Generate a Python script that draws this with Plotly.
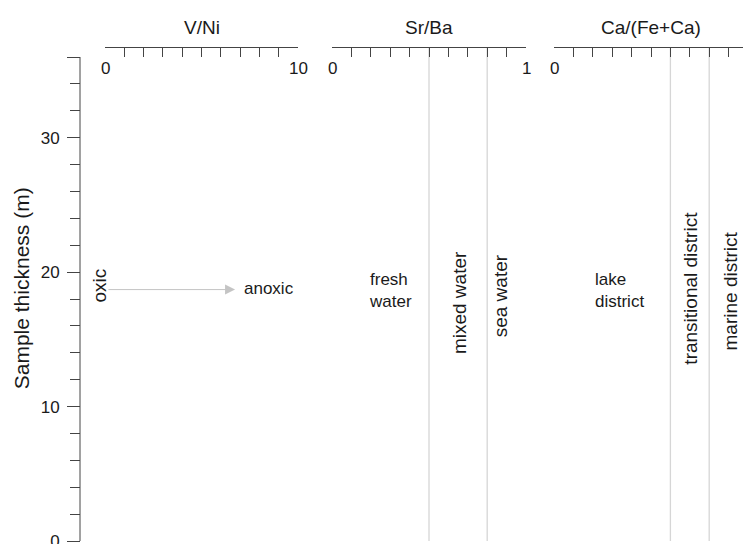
import plotly.graph_objects as go

# Depth axis (m)
depth_max = 36
depth_major = [0, 10, 20, 30]
depth_minor = [2, 4, 6, 8, 12, 14, 16, 18, 22, 24, 26, 28, 32, 34]

# Proxy scales
proxy_titles = ["V/Ni", "Sr/Ba", "Ca/(Fe+Ca)"]
vni_ticks = [0, 1, 2, 3, 4, 5, 6, 7, 8, 9, 10]
ratio_ticks = [0, 0.1, 0.2, 0.3, 0.4, 0.5, 0.6, 0.7, 0.8, 0.9, 1.0]
vni_end_labels = [0, 10]
srba_end_labels = [0, 1]
cafeca_end_labels = [0]

# Environmental boundaries
srba_bounds = [0.5, 0.8]
cafeca_bounds = [0.6, 0.8]

# Redox arrow (V/Ni): from oxic to anoxic
redox_arrow_x = [0.1, 6.74]
redox_arrow_y = 18.7

# Zone labels: (text, x, y)
vni_labels = [("anoxic", 8.5, 18.8)]
vni_vlabels = [("oxic", -0.26, 19.0)]
srba_labels = [("fresh<br>water", 0.30, 18.65)]
srba_vlabels = [("mixed water", 0.655, 17.7), ("sea water", 0.866, 18.2)]
cafeca_labels = [("lake<br>district", 0.336, 18.6)]
cafeca_vlabels = [("transitional district", 0.703, 18.8), ("marine district", 0.91, 18.6)]

FONT = "Liberation Sans, Arial, sans-serif"
AX = "#444444"
TXT = "#1a1a1a"
BOUND = "#d6d6d6"

W, H = 743, 544
m_l, m_r, m_t, m_b = 80, 0, 48, 3
plot_w = W - m_l - m_r
plot_h = H - m_t - m_b
px_per_m = 13.44
y_top = depth_max + (57 - m_t) / px_per_m

VNI_PX = (105, 298)
SRBA_PX = (332, 526)
CA_PX = (554, 748)


def dom(px0, px1):
    return [(px0 - m_l) / plot_w, min(1.0, (px1 - m_l) / plot_w)]


def to_paper(px_pair, rng, v):
    # position of a scale value on the paper, used for labels just off a scale
    p0, p1 = px_pair
    px = p0 + (v - rng[0]) / (rng[1] - rng[0]) * (p1 - p0)
    return (px - m_l) / plot_w


d1 = dom(*VNI_PX)
d2 = dom(*SRBA_PX)
d3 = dom(*CA_PX)
ca_range_end = (W - CA_PX[0]) / (CA_PX[1] - CA_PX[0])

fig = go.Figure()
# invisible anchor traces so every axis is drawn
for xa in ["x", "x2", "x3"]:
    fig.add_trace(go.Scatter(x=[0], y=[0], xaxis=xa, yaxis="y", mode="markers",
                             marker=dict(opacity=0), hoverinfo="skip", showlegend=False))

top_axis = dict(side="top", anchor="y", ticks="inside", ticklen=9, tickwidth=1,
                tickcolor=AX, showline=True, linecolor=AX, linewidth=1,
                showgrid=False, zeroline=False, showticklabels=False,
                tickmode="array", fixedrange=True, automargin=False)

fig.update_layout(
    width=W, height=H,
    margin=dict(l=m_l, r=m_r, t=m_t, b=m_b, pad=0, autoexpand=False),
    paper_bgcolor="white", plot_bgcolor="white",
    font=dict(family=FONT, color=TXT),
    showlegend=False,
    xaxis=dict(domain=d1, range=[0, 10], tickvals=vni_ticks, **top_axis),
    xaxis2=dict(domain=d2, range=[0, 1], tickvals=ratio_ticks, **top_axis),
    xaxis3=dict(domain=d3, range=[0, ca_range_end], tickvals=ratio_ticks, **top_axis),
    yaxis=dict(range=[0, y_top], domain=[0, 1], anchor="free", position=0,
               showline=False, showgrid=False, zeroline=False,
               tickmode="array", tickvals=depth_major + [depth_max],
               ticktext=[str(v) for v in depth_major] + [""],
               ticks="outside", ticklen=13, tickwidth=1, tickcolor=AX,
               tickfont=dict(size=17, color=TXT), ticklabelstandoff=4,
               ticklabeloverflow="allow", automargin=False,
               minor=dict(tickmode="array", tickvals=depth_minor, ticks="outside",
                          ticklen=10, tickwidth=1, tickcolor=AX),
               fixedrange=True),
)

shapes = []
# depth axis line
shapes.append(dict(type="line", xref="paper", yref="y", x0=0, x1=0, y0=0, y1=depth_max,
                   line=dict(color=AX, width=1)))
for xv in srba_bounds:
    shapes.append(dict(type="line", xref="x2", yref="y", x0=xv, x1=xv, y0=0, y1=y_top,
                       line=dict(color=BOUND, width=1.3), layer="below"))
for xv in cafeca_bounds:
    shapes.append(dict(type="line", xref="x3", yref="y", x0=xv, x1=xv, y0=0, y1=y_top,
                       line=dict(color=BOUND, width=1.3), layer="below"))
fig.update_layout(shapes=shapes)

ann = []
# panel titles, centred on each full scale
title_y = 1 + (48 - 28) / plot_h
for title, pxp in zip(proxy_titles, [VNI_PX, SRBA_PX, CA_PX]):
    ann.append(dict(text=title, xref="paper", yref="paper",
                    x=((pxp[0] + pxp[1]) / 2 - m_l) / plot_w, y=title_y,
                    xanchor="center", yanchor="middle", showarrow=False,
                    font=dict(size=19, color=TXT)))

# end-of-scale tick labels below each top axis
lbl_y = 1 - (68.5 - 48) / plot_h
for xr, vals in [("x", vni_end_labels), ("x2", srba_end_labels), ("x3", cafeca_end_labels)]:
    for v in vals:
        ann.append(dict(text=str(v), xref=xr, yref="paper", x=v, y=lbl_y,
                        xanchor="center", yanchor="middle", showarrow=False,
                        font=dict(size=17, color=TXT)))

# depth axis title
ann.append(dict(text="Sample thickness (m)", xref="paper", yref="y",
                x=(21 - m_l) / plot_w, y=18.8, textangle=-90,
                xanchor="center", yanchor="middle", showarrow=False,
                font=dict(size=21, color=TXT)))

# redox arrow
ann.append(dict(text="", xref="x", yref="y", x=redox_arrow_x[1], y=redox_arrow_y,
                axref="x", ayref="y", ax=redox_arrow_x[0], ay=redox_arrow_y,
                showarrow=True, arrowhead=2, arrowsize=2, arrowwidth=1,
                arrowcolor="#c4c4c4", standoff=0, startstandoff=0))

for xr, pxp, rng, hl, vl in [("x", VNI_PX, [0, 10], vni_labels, vni_vlabels),
                             ("x2", SRBA_PX, [0, 1], srba_labels, srba_vlabels),
                             ("x3", CA_PX, [0, 1], cafeca_labels, cafeca_vlabels)]:
    for text, xv, yv in hl:
        ann.append(dict(text=text, xref="paper", yref="y", x=to_paper(pxp, rng, xv), y=yv,
                        align="left", xanchor="center", yanchor="middle", showarrow=False,
                        font=dict(size=17, color=TXT)))
    for text, xv, yv in vl:
        ann.append(dict(text=text, xref="paper", yref="y", x=to_paper(pxp, rng, xv), y=yv,
                        textangle=-90, xanchor="center", yanchor="middle", showarrow=False,
                        font=dict(size=19, color=TXT)))

fig.update_layout(annotations=ann)

fig.write_html("out.html", config={"displayModeBar": False})
